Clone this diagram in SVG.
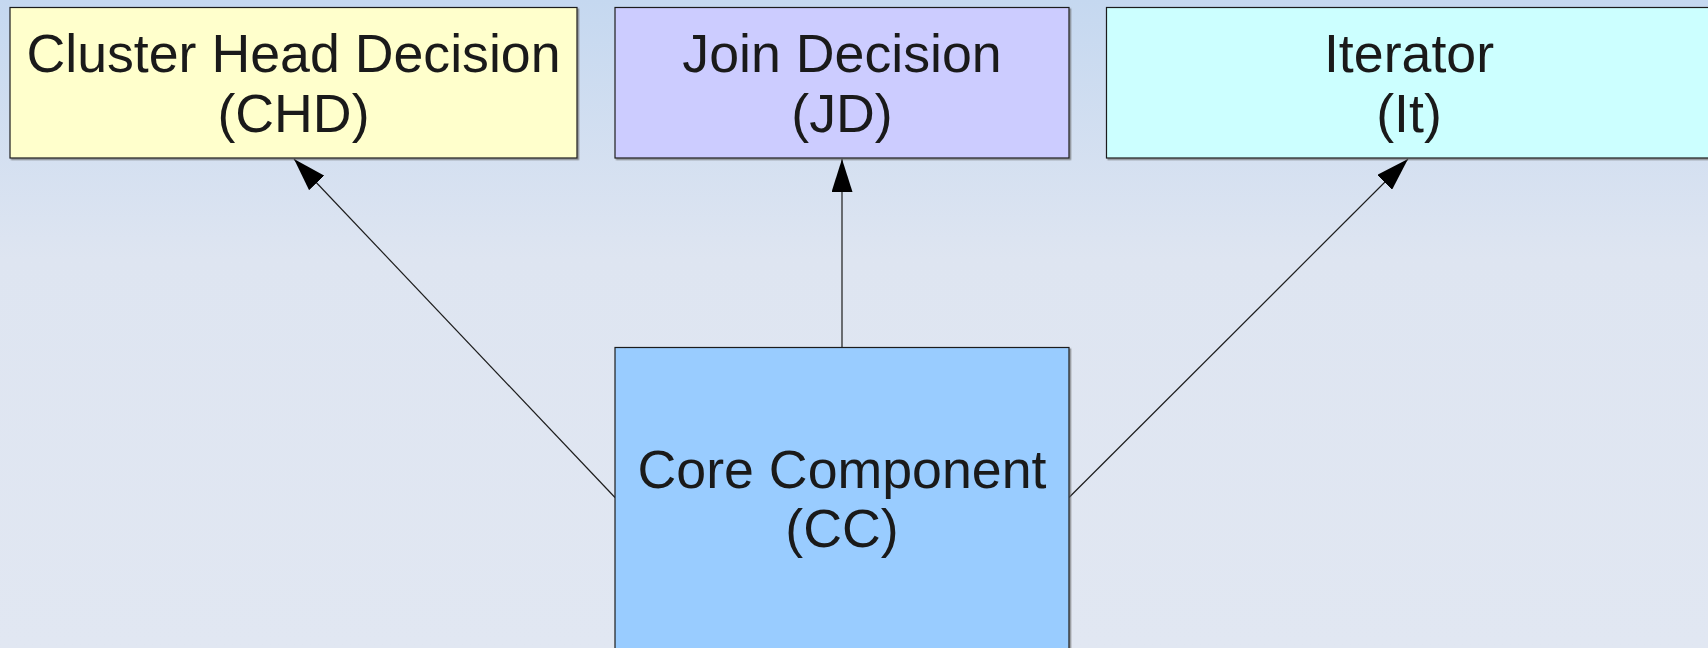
<svg xmlns="http://www.w3.org/2000/svg" width="1708" height="648" viewBox="0 0 1708 648">
  <defs>
    <linearGradient id="bg" x1="0" y1="0" x2="0" y2="1">
      <stop offset="0" stop-color="#c5d8f0"/>
      <stop offset="0.4" stop-color="#dee5f1"/>
      <stop offset="1" stop-color="#e1e7f2"/>
    </linearGradient>
    <marker id="arrow" viewBox="0 0 33 21" refX="33" refY="10.5" markerWidth="33" markerHeight="21" markerUnits="userSpaceOnUse" orient="auto">
      <path d="M0,0 L33,10.5 L0,21 z" fill="#000"/>
    </marker>
    <filter id="shadow" x="-5%" y="-5%" width="110%" height="110%">
      <feDropShadow dx="1.5" dy="1.5" stdDeviation="0.6" flood-color="#666" flood-opacity="0.7"/>
    </filter>
  </defs>
  <style>
    .box { stroke: #1c1c1c; stroke-width: 1.2; filter: url(#shadow); }
    .label { font-family: "Liberation Sans", Arial, sans-serif; font-size: 53.7px; fill: #1a1a1a; text-anchor: middle; }
    .conn { stroke: #1c1c1c; stroke-width: 1.2; fill: none; marker-end: url(#arrow); }
  </style>

  <rect x="0" y="0" width="1708" height="648" fill="url(#bg)"/>

  <g id="connectors">
    <path class="conn" d="M615,497.5 L294,159"/>
    <path class="conn" d="M842,347.5 L842,159"/>
    <path class="conn" d="M1069,497.5 L1408,159"/>
  </g>

  <g id="chd">
    <rect class="box" x="10" y="7.5" width="567" height="150.5" fill="#ffffcc"/>
    <text class="label" x="293.5" y="72">Cluster Head Decision</text>
    <text class="label" x="293.5" y="131.5">(CHD)</text>
  </g>

  <g id="jd">
    <rect class="box" x="615" y="7.5" width="454" height="150.5" fill="#ccccff"/>
    <text class="label" x="842" y="72">Join Decision</text>
    <text class="label" x="842" y="131.5">(JD)</text>
  </g>

  <g id="it">
    <rect class="box" x="1106.5" y="7.5" width="605" height="150.5" fill="#ccffff"/>
    <text class="label" x="1409" y="72">Iterator</text>
    <text class="label" x="1409" y="131.5">(It)</text>
  </g>

  <g id="cc">
    <rect class="box" x="615" y="347.5" width="454" height="310" fill="#99ccff"/>
    <text class="label" x="842" y="488">Core Component</text>
    <text class="label" x="842" y="547">(CC)</text>
  </g>
</svg>
